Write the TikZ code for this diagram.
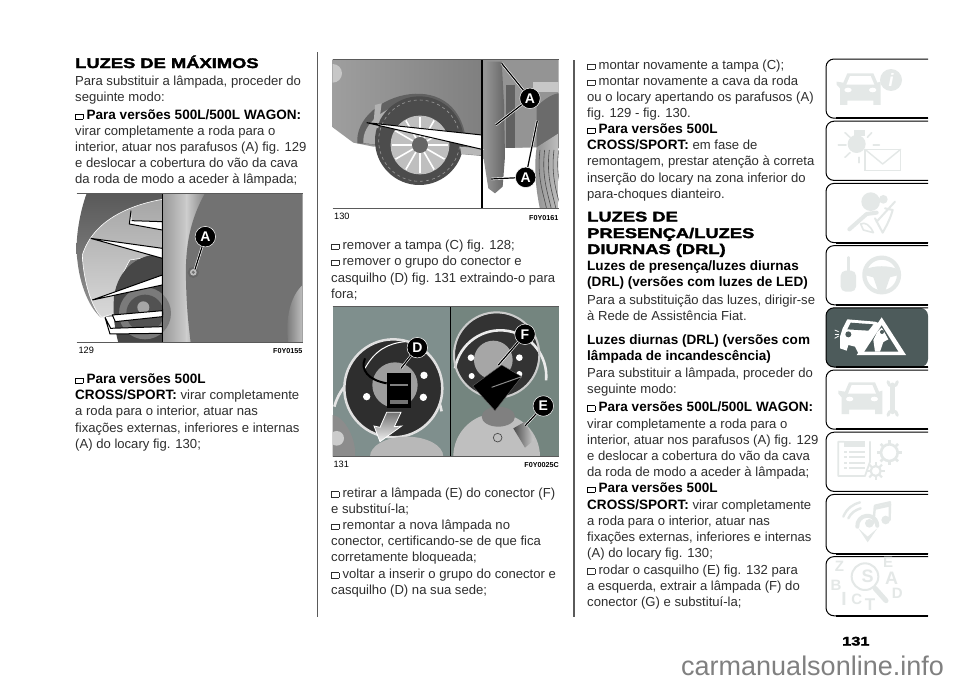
\documentclass[tikz,border=0pt]{standalone}
\usepackage{fontspec}
\setmainfont{Liberation Sans}
\newfontfamily\headfont[BoldFeatures={FakeStretch=1.31,FakeBold=2.2}]{Liberation Sans}
\definecolor{tabicon}{HTML}{E4E8E7}
\definecolor{tabdark}{HTML}{4D5B5B}
\definecolor{rulegray}{HTML}{5A5A5A}
\definecolor{platea}{HTML}{7F8F8D}
\definecolor{plateb}{HTML}{74857F}
\definecolor{panelgray}{HTML}{727272}
\newcommand{\boxmark}{\raisebox{.4pt}{\fboxsep0pt\fboxrule.7pt\fbox{\rule{0pt}{4.6pt}\rule{6.6pt}{0pt}}}\hspace{3.4pt}}
\newcommand{\plainpart}{\mdseries\fontsize{13.1}{16}\selectfont\color{black!82}}
\newcommand{\carfront}[1]{%
  \fill[#1] (60,165) -- (60,115) -- (50,104) -- (50,95) -- (70,98) -- (82,70) -- (160,70) -- (172,98) -- (182,95) -- (182,104) -- (182,165) -- (160,165) -- (160,152) -- (82,152) -- (82,165) -- cycle;
  \fill[white] (90,78) -- (152,78) -- (163,104) -- (79,104) -- cycle;
  \fill[white] (84,120) ellipse (11 and 7);
  \fill[white] (158,120) ellipse (11 and 7);
}
\newcommand{\gearicon}[4]{%
  \foreach \a in {0,45,...,315}
    \draw[tabicon,line width=#4pt] (#1,#2) ++(\a:#3-5) -- ++(\a:11);
  \draw[tabicon,line width=#4pt] (#1,#2) circle (#3-6);
}
\tikzset{
  figarea/.style 2 args={shift={(#1,#2)},x=0.3333pt,y=-0.3333pt},
  bodytext/.style={anchor=base west,inner sep=0pt,font=\fontsize{13.1}{16}\selectfont,text=black!82},
  boldtext/.style={bodytext,font=\fontsize{13.55}{16}\selectfont\bfseries,text=black},
  headtext/.style={anchor=base west,inner sep=0pt,font=\fontsize{14}{16}\selectfont\headfont\bfseries},
  fignum/.style={anchor=base west,inner sep=0pt,font=\fontsize{9.2}{10}\selectfont},
  figcode/.style={anchor=base east,inner sep=0pt,font=\fontsize{7.2}{8}\selectfont\bfseries},
  callout/.style={circle,fill=black,draw=white,line width=.5pt,text=white,inner sep=0pt,minimum size=20.5pt,font=\fontsize{14}{14}\selectfont\bfseries},
  leader/.style={line width=1.2pt,black,preaction={draw=white,line width=2.4pt}},
  wedge/.style={fill=white,draw=black,line width=1pt,line join=miter},
  tabline/.style={rounded corners=8pt,line width=1pt,black},
  iconline/.style={tabicon,line cap=round,line join=round},
  iconletter/.style={inner sep=0pt,text=tabicon,font=\fontsize{15}{15}\selectfont\bfseries},
}
\begin{document}
\begin{tikzpicture}[x=1pt,y=-1pt]
  \useasboundingbox (0,0) rectangle (960,683);
  \fill[white] (0,0) rectangle (960,683);

  % column rules
  \draw[rulegray,line width=1.3pt] (317.5,52) -- (317.5,617);
  \draw[rulegray,line width=1.3pt] (574,60) -- (574,617);

  % first column
  \node[headtext] (headA) at (75,68) {LUZES DE MÁXIMOS};
  \foreach \y/\txt [count=\i] in {85/{Para substituir a lâmpada, proceder do},101/{seguinte modo:},135/{virar completamente a roda para o},151.5/{interior, atuar nos parafusos (A) fig. 129},167.5/{e deslocar a cobertura do vão da cava},183.5/{da roda de modo a aceder à lâmpada;},415.5/{a roda para o interior, atuar nas},432/{fixações externas, inferiores e internas},448/{(A) do locary fig. 130;}}
    \node[bodytext] (colA\i) at (75,\y) {\txt};
  \node[boldtext] (colAb) at (75,119.5) {\boxmark Para versões 500L/500L WAGON:};
  \node[boldtext] (colAd) at (75,383.5) {\boxmark Para versões 500L};
  \node[boldtext] (colAe) at (75,399.5) {CROSS/SPORT: \plainpart virar completamente};

  % figure 129
  \begin{scope}[figarea={30}{180}]
    \begin{scope}
      \clip (140,40) rectangle (818,488);
      \shade[left color=black!40,right color=black!20] (397,40) rectangle (470,488);
      \shade[left color=black!20,right color=black!50] (470,40) rectangle (530,488);
      \fill[panelgray] (525,40) .. controls (480,120) and (465,200) .. (468,300) .. controls (470,400) and (478,450) .. (482,488) -- (818,488) -- (818,40) -- cycle;
      \shade[left color=panelgray,right color=black!25] (818,315) .. controls (780,350) and (765,420) .. (775,488) -- (818,488) -- cycle;
      \shade[top color=black!65,bottom color=black!42] (170,40) .. controls (145,110) and (135,190) .. (142,240) .. controls (150,320) and (180,385) .. (212,412) -- (397,400) -- (397,40) -- cycle;
      \shade[top color=black!35,bottom color=black!15,draw=white,line width=.6pt] (397,58) .. controls (300,75) and (190,120) .. (157,225) .. controls (160,300) and (185,385) .. (215,412) -- (255,400) .. controls (255,340) and (270,290) .. (300,240) -- (397,225) -- cycle;
      \fill[black!72] (397,222) .. controls (330,222) and (265,260) .. (252,350) .. controls (248,410) and (255,450) .. (265,488) -- (397,488) -- cycle;
      \fill[black!52] (345,400) circle (78);
      \fill[black!68] (345,400) circle (56);
      \fill[black!35] (340,382) circle (18);
      \filldraw[wedge] (303,92) -- (298,132) -- (397,150) -- (397,125) -- (305,122);
      \filldraw[wedge] (182,175) -- (397,205) -- (397,235) -- cycle;
      \filldraw[wedge] (187,360) -- (397,285) -- (397,315) -- cycle;
      \filldraw[wedge] (247,405) -- (256,425) -- (397,410) -- (397,392) -- cycle;
      \filldraw[wedge] (225,412) -- (240,462) -- (397,460) -- (397,440) -- (242,445) -- cycle;
      \fill[black!60] (490,277) circle (17);
      \fill[black!25] (490,277) circle (10);
      \fill[black!55] (490,277) circle (5);
    \end{scope}
    \draw[black,line width=1.3pt] (397,40) -- (397,488);
    \draw[rulegray,line width=1pt] (140,40) -- (818,40);
    \draw[rulegray,line width=1pt] (140,488) -- (818,488);
    \coordinate (boltA) at (495,268);
    \node[callout] (markA) at (526,170) {A};
    \draw[leader] (markA) -- (boltA);
    \node[fignum] (numA) at (145,522) {129};
    \node[figcode] (codeA) at (818,522) {F0Y0155};
  \end{scope}

  % figure 130
  \begin{scope}[figarea={320}{50}]
    \begin{scope}
      \clip (38,27) rectangle (716,477);
      \shade[left color=black!38,right color=black!50] (38,27) -- (486,27) -- (486,318) -- (420,312) -- (410,260) -- (160,290) -- (100,278) -- (38,232) -- cycle;
      \fill[black!22] (38,70) circle (28);
      \fill[black!62] (112,280) .. controls (100,130) and (435,30) .. (440,300) -- cycle;
      \fill[black!32] (130,280) .. controls (120,160) and (415,70) .. (420,300) -- cycle;
      \fill[black!70] (298,272) circle (133);
      \draw[black!40,line width=.6pt,dashed] (298,272) circle (122);
      \fill[black!25] (300,285) circle (88);
      \foreach \a in {0,30,...,330}
        \draw[white,line width=1.6pt] (300,285) -- ++(\a:85);
      \fill[black!60] (300,285) circle (24);
      \fill[black!30] (165,165) -- (185,160) -- (175,235) -- (160,230) -- cycle;
      \fill[black!28] (420,290) -- (486,296) -- (486,316) -- (424,312) -- cycle;
      \filldraw[wedge] (140,218) -- (486,255) -- (486,298) -- cycle;
      % right part
      \fill[black!42] (486,27) rectangle (716,295);
      \fill[black!22] (640,95) rectangle (716,125);
      \fill[black!58] (650,170) .. controls (690,130) and (716,130) .. (716,130) -- (716,295) -- (650,295) -- cycle;
      \fill[white] (550,295) -- (650,292) -- (650,477) -- (486,477) -- (486,300) -- cycle;
      \shade[left color=black!45,right color=black!25] (650,292) .. controls (640,360) and (650,430) .. (660,477) -- (716,477) -- (716,250) -- cycle;
      \foreach \d in {0,14,...,56}
        \draw[black!70,line width=.6pt] (660+\d,300) .. controls (650+\d,380) and (670+\d,430) .. (680+\d,477);
      \fill[black!62] (558,105) rectangle (585,295);
      \shade[left color=black!40,right color=black!60] (500,35) -- (545,35) -- (552,160) -- (555,320) -- (548,410) -- (525,430) -- (505,415) -- (490,320) -- (495,120) -- cycle;
    \end{scope}
    \draw[black,line width=1.3pt] (486,27) -- (486,477);
    \draw[rulegray,line width=1pt] (38,27) -- (716,27);
    \draw[rulegray,line width=1pt] (38,477) -- (716,477);
    \coordinate (boltB) at (545,40);
    \coordinate (boltC) at (527,225);
    \coordinate (boltD) at (513,387);
    \coordinate (boltE) at (652,212);
    \node[callout] (markB) at (630,145) {A};
    \node[callout] (markC) at (617,382) {A};
    \draw[leader] (markB) -- (boltB);
    \draw[leader] (markB) -- (boltC);
    \draw[leader] (markC) -- (boltD);
    \draw[leader] (markC) -- (boltE);
    \node[fignum] (numB) at (42,508) {130};
    \node[figcode] (codeB) at (716,512) {F0Y0161};
  \end{scope}

  % second column
  \foreach \y/\txt [count=\i] in {249.5/{\boxmark remover a tampa (C) fig. 128;},265.5/{\boxmark remover o grupo do conector e},282/{casquilho (D) fig. 131 extraindo-o para},298/{fora;},497/{\boxmark retirar a lâmpada (E) do conector (F)},513/{e substituí-la;},529.5/{\boxmark remontar a nova lâmpada no},545.5/{conector, certificando-se de que fica},561.5/{corretamente bloqueada;},578/{\boxmark voltar a inserir o grupo do conector e},594/{casquilho (D) na sua sede;}}
    \node[bodytext] (colB\i) at (331,\y) {\txt};

  % figure 131
  \begin{scope}[figarea={325}{300}]
    \begin{scope}
      \clip (23,20) rectangle (702,470);
      \fill[platea] (23,20) rectangle (376,470);
      \fill[plateb] (376,20) rectangle (702,470);
      % left plate
      \draw[black!10,line width=2.6pt] (28,320) arc[start angle=195,end angle=350,radius=165] ;
      \fill[black!82] (205,265) circle (145);
      \draw[black!12,line width=2.5pt] (205,265) circle (147);
      \fill[black!38] (210,255) circle (68);
      \fill[white] (125,290) circle (11);
      \fill[white] (297,226) circle (11);
      \fill[white] (295,292) circle (11);
      \draw[white,line width=1pt] (120,205) .. controls (150,150) and (190,130) .. (240,125);
      \draw[black,line width=2pt] (120,175) .. controls (105,210) and (130,240) .. (185,250);
      \fill[black] (185,218) rectangle (258,325);
      \fill[black!50] (195,252) rectangle (248,258);
      \fill[black!55] (195,300) rectangle (248,312);
      \fill[black!28] (245,470) ellipse (110 and 60);
      \fill[black!45] (23,345) .. controls (60,350) and (95,420) .. (90,470) -- (23,470) -- cycle;
      \fill[black!20] (35,415) circle (22);
      \shade[top color=black!55,bottom color=black!5,draw=white,line width=.8pt] (185,337) -- (228,337) -- (208,380) -- (230,378) -- (165,425) -- (147,378) -- (165,382) -- cycle;
      % right plate
      \fill[black!80] (515,165) circle (125);
      \draw[black!8,line width=2.6pt] (390,205) arc[start angle=190,end angle=365,radius=138];
      \draw[black!20,line width=2pt] (515,165) circle (128);
      \fill[black!35] (505,180) circle (58);
      \fill[white] (438,173) circle (10);
      \fill[white] (583,173) circle (10);
      \fill[white] (440,228) circle (9);
      \fill[white] (583,222) circle (9);
      \fill[black!25] (515,470) circle (130);
      \fill[black!50] (520,350) ellipse (50 and 30);
      \filldraw[fill=black,draw=black!60] (443,258) -- (530,195) -- (590,230) -- (510,332) -- cycle;
      \draw[black!45,line width=1pt] (500,262) -- (590,230);
      \shade[left color=black!70,right color=black!20] (565,385) -- (600,365) -- (627,420) -- (600,443) -- cycle;
      \draw[black!70,line width=.7pt] (518,413) circle (13);
    \end{scope}
    \draw[black,line width=1.3pt] (376,20) -- (376,470);
    \draw[rulegray,line width=1pt] (23,20) -- (702,20);
    \draw[rulegray,line width=1pt] (23,470) -- (702,470);
    \coordinate (tipD) at (228,205);
    \coordinate (tipF) at (520,195);
    \coordinate (tipE) at (600,378);
    \node[callout] (markD) at (277,143) {D};
    \node[callout] (markF) at (600,103) {F};
    \node[callout] (markE) at (655,318) {E};
    \draw[leader] (markD) -- (tipD);
    \draw[leader] (markF) -- (tipF);
    \draw[leader] (markE) -- (tipE);
    \node[fignum] (numC) at (25,502) {131};
    \node[figcode] (codeC) at (702,502) {F0Y0025C};
  \end{scope}

  % third column
  \foreach \y/\txt [count=\i] in {69.5/{\boxmark montar novamente a tampa (C);},85.5/{\boxmark montar novamente a cava da roda},101.5/{ou o locary apertando os parafusos (A)},117.5/{fig. 129 - fig. 130.},165.5/{remontagem, prestar atenção à correta},182/{inserção do locary na zona inferior do},198/{para-choques dianteiro.},304/{Para a substituição das luzes, dirigir-se},320/{à Rede de Assistência Fiat.},377.5/{Para substituir a lâmpada, proceder do},393.5/{seguinte modo:},428/{virar completamente a roda para o},444/{interior, atuar nos parafusos (A) fig. 129},460.5/{e deslocar a cobertura do vão da cava},476.5/{da roda de modo a aceder à lâmpada;},525/{a roda para o interior, atuar nas},541.5/{fixações externas, inferiores e internas},557.5/{(A) do locary fig. 130;},574/{\boxmark rodar o casquilho (E) fig. 132 para},590/{a esquerda, extrair a lâmpada (F) do},606/{conector (G) e substituí-la;}}
    \node[bodytext] (colC\i) at (587,\y) {\txt};
  \foreach \y/\txt [count=\i] in {133.5/{\boxmark Para versões 500L},149.5/{CROSS/SPORT: \plainpart em fase de},270.5/{Luzes de presença/luzes diurnas},286.5/{(DRL) (versões com luzes de LED)},344/{Luzes diurnas (DRL) (versões com},360.5/{lâmpada de incandescência)},411/{\boxmark Para versões 500L/500L WAGON:},492.5/{\boxmark Para versões 500L},509/{CROSS/SPORT: \plainpart virar completamente}}
    \node[boldtext] (colD\i) at (587,\y) {\txt};
  \node[headtext] (headB) at (587,221.5) {LUZES DE};
  \node[headtext] (headC) at (587,238) {PRESENÇA/LUZES};
  \node[headtext] (headD) at (587,254) {DIURNAS (DRL)};

  % side tabs
  \foreach \i in {0,...,8} {
    \pgfmathsetmacro{\ytop}{59+62.2*\i}
    \pgfmathsetmacro{\ybot}{\ytop+59.2}
    \ifnum\i=4
      \fill[tabdark,rounded corners=8pt] (928,\ytop) -- (826,\ytop) -- (826,\ybot) -- (928,\ybot) -- cycle;
    \fi
    \draw[tabline] (928,\ytop) -- (826,\ytop) -- (826,\ybot) -- (928,\ybot);
    \draw[black,line width=1.8pt] (836,\ybot) -- (928,\ybot);
  }

  % icons of the upper tabs
  \begin{scope}[figarea={820}{50}]
    \carfront{tabicon}
    \fill[tabicon] (213,90) circle (33);
    \node[inner sep=0pt,text=white,font=\fontsize{18}{18}\selectfont\bfseries\itshape] (infoI) at (213,90) {i};
    % lamp and envelope
    \fill[tabicon] (110,282) circle (27);
    \fill[tabicon] (103,240) rectangle (135,258);
    \foreach \xa/\ya/\xb/\yb in {55/285/78/285,75/248/90/262,155/248/142/262,160/285/178/285,75/322/90/308,117/322/117/338}
      \draw[iconline,line width=1.6pt] (\xa,\ya) -- (\xb,\yb);
    \filldraw[fill=white,draw=tabicon,line width=1.4pt] (135,298) rectangle (242,362);
    \draw[iconline,line width=1.4pt] (135,298) -- (188,342) -- (242,298);
    % airbag
    \fill[tabicon] (152,455) circle (28);
    \fill[tabicon] (190,448) circle (13);
    \draw[iconline,line width=4pt] (88,538) -- (140,492) -- (170,488);
    \draw[iconline,line width=1.6pt] (122,522) .. controls (135,515) and (150,525) .. (160,548) -- (130,540) -- cycle;
    \draw[iconline,line width=2pt] (195,475) -- (218,480) .. controls (210,510) and (195,535) .. (188,548) -- (165,505);
    \draw[iconline,line width=2pt] (225,455) -- (170,515);
    % key and wheel
    \draw[iconline,line width=2.4pt] (85,622) -- (85,662);
    \fill[tabicon,rounded corners=5pt] (62,662) rectangle (108,725);
    \draw[iconline,line width=4.2pt] (185,675) circle (52);
    \fill[tabicon] (133,660) .. controls (160,645) and (210,645) .. (237,660) -- (237,675) -- (210,682) -- (195,725) -- (175,725) -- (160,682) -- (133,675) -- cycle;
  \end{scope}

  % icon of the dark tab
  \begin{scope}[figarea={820}{290}]
    \fill[white] (60,140) -- (68,115) -- (82,88) -- (165,95) -- (178,100) -- (115,190) -- (105,170) -- (85,165) -- (80,182) -- (60,175) -- cycle;
    \fill[tabdark] (92,98) -- (160,103) -- (145,122) -- (82,118) -- cycle;
    \fill[tabdark] (85,133) circle (9);
    \foreach \ya/\yb in {120/125,132/132,145/138}
      \draw[white,line width=.8pt] (44,\ya) -- (56,\yb);
    \fill[white] (185,82) -- (258,195) -- (110,195) -- cycle;
    \fill[tabdark] (185,106) -- (235,185) -- (133,185) -- cycle;
    \fill[white] (185,113) -- (195,130) -- (205,148) -- (190,156) -- (180,185) -- (165,185) -- (160,150) -- (172,125) -- cycle;
    \fill[tabdark] (186,126) circle (6);
  \end{scope}

  % icons of the lower tabs
  \begin{scope}[figarea={820}{340}]
    \begin{scope}[shift={(5,57)}]
      \carfront{tabicon}
    \end{scope}
    \draw[iconline,line width=5pt] (218,135) -- (218,215);
    \draw[iconline,line width=3pt] (204,125) arc[start angle=180,end angle=0,radius=14];
    \draw[iconline,line width=3pt] (204,226) arc[start angle=180,end angle=360,radius=14];
    % list and gears
    \draw[iconline,line width=1.8pt] (72,305) -- (55,305) -- (55,408) -- (135,408) -- (150,365) -- (150,305);
    \fill[tabicon] (72,303) rectangle (135,320);
    \foreach \y in {335,352,368,385} {
      \fill[tabicon] (72,\y-3) rectangle (82,\y+3);
      \fill[tabicon] (88,\y-3) rectangle (135,\y+3);
    }
    \gearicon{208}{338}{31}{2.6}
    \gearicon{167}{393}{21}{2.2}
    % pin and note
    \draw[iconline,line width=2.4pt] (70,530) .. controls (80,505) and (100,492) .. (120,487);
    \draw[iconline,line width=2.4pt] (85,535) .. controls (92,520) and (105,510) .. (122,505);
    \draw[iconline,line width=4pt] (112,560) arc[start angle=175,end angle=360,radius=30];
    \fill[tabicon] (115,565) -- (143,607) -- (172,565) -- (143,590) -- cycle;
    \fill[tabicon] (148,550) circle (13);
    \fill[tabicon] (197,540) circle (13);
    \draw[iconline,line width=2.4pt] (160,550) -- (165,497) -- (210,487) -- (209,540);
    \draw[iconline,line width=3pt] (165,505) -- (210,495);
    % search and letters
    \node[iconletter] (letZ) at (58,678) {Z};
    \node[iconletter] (letE) at (204,667) {E};
    \node[iconletter] (letB) at (48,735) {B};
    \node[iconletter,font=\fontsize{18}{18}\selectfont\bfseries] (letA) at (215,715) {A};
    \node[iconletter] (letD) at (232,760) {D};
    \node[iconletter,font=\fontsize{19}{19}\selectfont\bfseries] (letI) at (72,778) {I};
    \node[iconletter] (letC) at (110,778) {C};
    \node[iconletter,font=\fontsize{17}{17}\selectfont\bfseries] (letT) at (150,795) {T};
    \node[iconletter,font=\fontsize{18}{18}\selectfont\bfseries] (letS) at (143,708) {S};
    \draw[iconline,line width=2pt] (135,710) circle (40);
    \draw[iconline,line width=5pt] (165,745) -- (198,782);
  \end{scope}

  % page number and site line
  \node[headtext,font=\fontsize{12.5}{14}\selectfont\headfont\bfseries] (pagenum) at (842,645.5) {131};
  \node[anchor=base west,inner sep=0pt,text=black!50,font=\fontsize{27}{27}\selectfont] (sitename) at (681,675) {carmanualsonline.info};
\end{tikzpicture}
\end{document}
